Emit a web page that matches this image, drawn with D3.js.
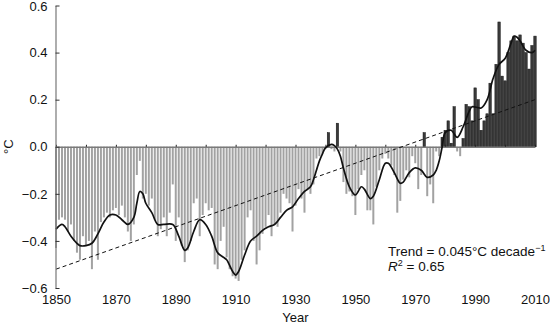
<!DOCTYPE html>
<html>
<head>
<meta charset="utf-8">
<script src="https://cdn.jsdelivr.net/npm/d3@7"></script>
<style>
  body { margin: 0; background: #fff; }
  svg { display: block; font-family: "Liberation Sans", Arial, Helvetica, sans-serif; }
</style>
</head>
<body>
<svg id="chart" width="550" height="326"></svg>
<script>
// annual anomalies (°C), one per year from FIRST_YEAR
const FIRST_YEAR = 1850;
const anomalies = [
  -0.43, -0.31, -0.30, -0.31, -0.36, -0.33, -0.40, -0.45, -0.48, -0.38, // 1850s
  -0.42, -0.40, -0.52, -0.36, -0.48, -0.32, -0.30, -0.28, -0.30, -0.27, // 1860s
  -0.26, -0.29, -0.25, -0.30, -0.36, -0.40, -0.33, -0.12, -0.06, -0.22, // 1870s
  -0.20, -0.25, -0.22, -0.31, -0.38, -0.35, -0.30, -0.38, -0.28, -0.16, // 1880s
  -0.40, -0.30, -0.42, -0.49, -0.44, -0.40, -0.24, -0.22, -0.38, -0.29, // 1890s
  -0.24, -0.27, -0.26, -0.50, -0.52, -0.40, -0.34, -0.47, -0.52, -0.55, // 1900s
  -0.56, -0.57, -0.48, -0.44, -0.30, -0.27, -0.40, -0.50, -0.44, -0.37, // 1910s
  -0.34, -0.29, -0.38, -0.33, -0.34, -0.28, -0.20, -0.22, -0.24, -0.36, // 1920s
  -0.25, -0.18, -0.22, -0.28, -0.18, -0.20, -0.16, -0.05, -0.04, -0.03, // 1930s
  -0.01, 0.06, -0.01, -0.02, 0.10, -0.02, -0.15, -0.20, -0.19, -0.21,   // 1940s
  -0.29, -0.18, -0.12, -0.10, -0.27, -0.27, -0.33, -0.17, -0.10, -0.05, // 1950s
  -0.03, -0.05, -0.08, -0.12, -0.28, -0.23, -0.14, -0.10, -0.13, -0.04, // 1960s
  -0.07, -0.18, -0.12, 0.06, -0.21, -0.16, -0.24, -0.02, -0.04, 0.04,   // 1970s
  0.07, 0.11, 0.015, 0.17, -0.02, -0.04, 0.035, 0.18, 0.17, 0.11,       // 1980s
  0.25, 0.20, 0.07, 0.11, 0.14, 0.27, 0.14, 0.35, 0.53, 0.30,           // 1990s
  0.28, 0.40, 0.45, 0.47, 0.45, 0.475, 0.44, 0.40, 0.33, 0.43,          // 2000s
  0.47                                                                  // 2010
];

// smoothed curve
const smoothYears = [
  1850, 1852, 1853, 1855, 1857, 1858, 1860, 1862, 1864, 1866, 1868, 1870, 1872, 1874,
  1876, 1877, 1878, 1879, 1880, 1882, 1884, 1886, 1889, 1891, 1893, 1894, 1896, 1898,
  1900, 1902, 1904, 1906, 1907, 1909, 1910, 1911, 1913, 1915, 1917, 1919, 1921, 1923,
  1925, 1927, 1929, 1931, 1933, 1935, 1936, 1937, 1938, 1939, 1940, 1942, 1943, 1944,
  1945, 1946, 1948, 1950, 1952, 1953, 1955, 1956, 1958, 1960, 1961, 1963, 1965, 1966,
  1968, 1970, 1972, 1974, 1976, 1977, 1978, 1979, 1980, 1982, 1984, 1986, 1988, 1989,
  1992, 1994, 1996, 1998, 2000, 2002, 2003, 2004, 2005, 2007, 2009, 2010
];
const smoothValues = [
  -0.35, -0.33, -0.34, -0.38, -0.41, -0.42, -0.42, -0.41, -0.37, -0.32, -0.29, -0.29, -0.31, -0.33,
  -0.30, -0.24, -0.19, -0.20, -0.24, -0.28, -0.33, -0.33, -0.33, -0.38, -0.44, -0.43, -0.36, -0.31,
  -0.33, -0.38, -0.45, -0.47, -0.48, -0.53, -0.545, -0.53, -0.46, -0.40, -0.38, -0.355, -0.34, -0.33,
  -0.30, -0.27, -0.255, -0.22, -0.19, -0.17, -0.14, -0.10, -0.06, -0.03, -0.005, 0.01, 0.005, -0.01,
  -0.04, -0.09, -0.17, -0.205, -0.17, -0.18, -0.22, -0.21, -0.14, -0.07, -0.07, -0.11, -0.155, -0.15,
  -0.11, -0.09, -0.10, -0.13, -0.12, -0.10, -0.06, 0.0, 0.06, 0.07, 0.04, 0.085, 0.15, 0.17,
  0.165, 0.20, 0.29, 0.35, 0.375, 0.44, 0.47, 0.465, 0.45, 0.41, 0.40, 0.41
];

const trendYears = [1850, 2010];
const trendValues = [-0.52, 0.20];

const xTickYears = [1850, 1870, 1890, 1910, 1930, 1950, 1970, 1990, 2010];
const yTickValues = [-0.6, -0.4, -0.2, 0.0, 0.2, 0.4, 0.6];

const svg = d3.select("#chart");
const plot = { left: 56, right: 535, top: 5.5, bottom: 288 };
const FONT = 13;

const x = d3.scaleLinear().domain([1850, 2010]).range([plot.left, plot.right]);
const y = d3.scaleLinear().domain([-0.6, 0.6]).range([plot.bottom, plot.top]);

const bars = anomalies.map((v, i) => ({ year: FIRST_YEAR + i, v }));

// bars: grey below zero, dark above
svg.append("g").selectAll("rect").data(bars).enter().append("rect")
  .attr("x", (d) => x(d.year) - (d.v >= 0 ? 1.2 : 1))
  .attr("width", (d) => (d.v >= 0 ? 2.4 : 2))
  .attr("y", (d) => Math.min(y(d.v), y(0)))
  .attr("height", (d) => Math.abs(y(d.v) - y(0)))
  .attr("fill", (d) => (d.v >= 0 ? "#3a3a3a" : "#a2a2a2"))
  .attr("stroke", (d) => (d.v >= 0 ? "#111" : "none"))
  .attr("stroke-width", 0.5);

// zero line with decade ticks
const zeroAxis = svg.append("g")
  .attr("transform", `translate(0,${y(0)})`)
  .call(d3.axisTop(x).ticks(16).tickSizeInner(2).tickSizeOuter(0).tickFormat(""));
zeroAxis.select(".domain").attr("stroke", "#7a7a7a").attr("stroke-width", 1.6);
zeroAxis.selectAll(".tick line").attr("stroke", "#222");

// trend (dashed)
const trendLine = d3.line().x((d) => x(d[0])).y((d) => y(d[1]));
svg.append("path")
  .attr("d", trendLine(d3.zip(trendYears, trendValues)))
  .attr("fill", "none")
  .attr("stroke", "#111")
  .attr("stroke-width", 1)
  .attr("stroke-dasharray", "4,3");

// smoothed curve
const smoothLine = d3.line()
  .x((d) => x(d[0]))
  .y((d) => y(d[1]))
  .curve(d3.curveCatmullRom.alpha(0.5));
svg.append("path")
  .attr("d", smoothLine(d3.zip(smoothYears, smoothValues)))
  .attr("fill", "none")
  .attr("stroke", "#111")
  .attr("stroke-width", 1.7);

// y axis
const yAxis = svg.append("g")
  .attr("transform", `translate(${plot.left - 0.5},0)`)
  .call(d3.axisLeft(y).tickValues(yTickValues).tickSizeInner(-4).tickSizeOuter(0)
    .tickPadding(8).tickFormat(d3.format(".1f")));
yAxis.select(".domain").attr("stroke", "#777").attr("stroke-width", 1.2);
yAxis.selectAll(".tick line").attr("stroke", "#333");
yAxis.selectAll("text").attr("font-size", FONT).attr("fill", "#111")
  .attr("font-family", "Liberation Sans, Arial, sans-serif");
yAxis.selectAll(".tick").filter((d) => d === 0.6).select("text").attr("dy", "0.4em");

// x labels along the bottom (no axis line)
const xAxis = svg.append("g")
  .attr("transform", `translate(0,${plot.bottom})`)
  .call(d3.axisBottom(x).tickValues(xTickYears).tickSize(0).tickPadding(7).tickFormat(d3.format("d")));
xAxis.select(".domain").remove();
xAxis.selectAll("text").attr("font-size", FONT).attr("fill", "#111")
  .attr("font-family", "Liberation Sans, Arial, sans-serif");

// axis titles
svg.append("text")
  .attr("x", (plot.left + plot.right) / 2).attr("y", 322)
  .attr("text-anchor", "middle").attr("font-size", FONT).attr("fill", "#111")
  .text("Year");
svg.append("text")
  .attr("transform", `translate(13,${y(0)}) rotate(-90)`)
  .attr("text-anchor", "middle").attr("font-size", FONT).attr("fill", "#111")
  .text("°C");

// trend annotation
const note = svg.append("g").attr("font-size", 13.5).attr("fill", "#111");
const t1 = note.append("text").attr("x", 388).attr("y", 255.5);
t1.append("tspan").text("Trend = 0.045°C decade");
t1.append("tspan").attr("font-size", 9).attr("dy", -5).text("−1");
const t2 = note.append("text").attr("x", 388).attr("y", 271);
t2.append("tspan").attr("font-style", "italic").text("R");
t2.append("tspan").attr("font-size", 9).attr("dy", -5).text("2");
t2.append("tspan").attr("dy", 5).text(" = 0.65");
</script>
</body>
</html>
